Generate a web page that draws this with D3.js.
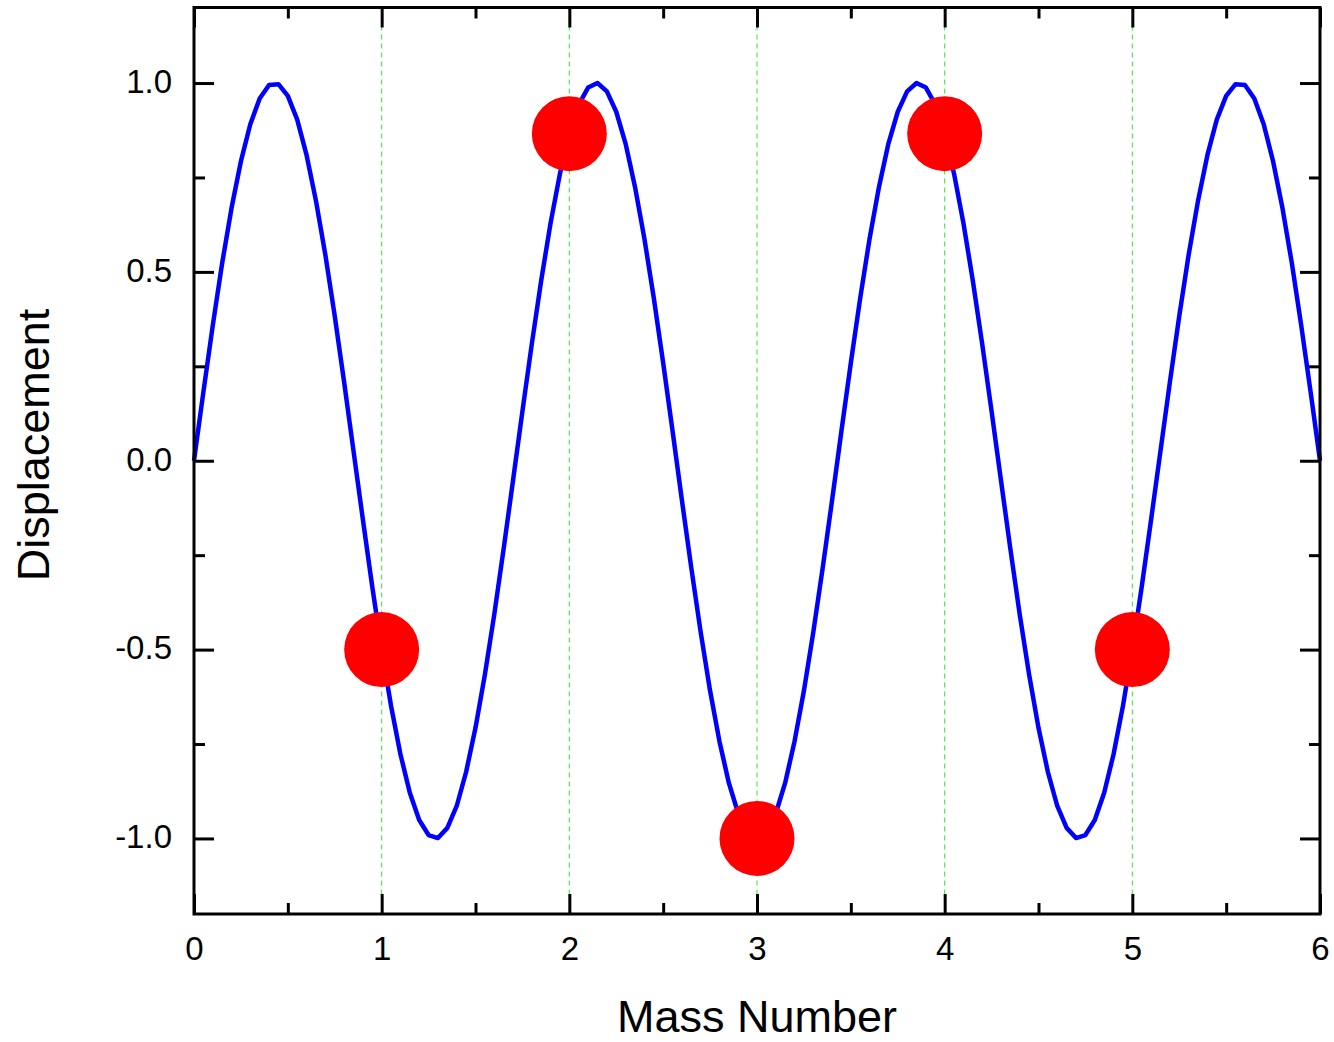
<!DOCTYPE html>
<html>
<head>
<meta charset="utf-8">
<script src="https://cdn.jsdelivr.net/npm/d3@7"></script>
<style>
  html, body { margin: 0; padding: 0; background: #fff; }
  svg { display: block; }
  text { font-family: Arial, "Liberation Sans", sans-serif; fill: #000; }
</style>
</head>
<body>
<svg id="chart" width="1334" height="1042"></svg>
<script>
// Wave displacement sampled every 0.05 along the mass-number axis
const sampleStep = 0.05;
const waveDisplacement = [
  0.000, 0.182, 0.358, 0.523, 0.669, 0.793, 0.891, 0.959, 0.995, 0.997,
  0.966, 0.903, 0.809, 0.688, 0.545, 0.383, 0.208, 0.026, -0.156, -0.334,
  -0.500, -0.649, -0.777, -0.879, -0.951, -0.991, -0.999, -0.972, -0.914, -0.824,
  -0.707, -0.566, -0.407, -0.233, -0.052, 0.131, 0.309, 0.477, 0.629, 0.760,
  0.866, 0.943, 0.988, 1.000, 0.978, 0.924, 0.839, 0.725, 0.588, 0.431,
  0.259, 0.079, -0.105, -0.284, -0.454, -0.609, -0.743, -0.853, -0.934, -0.983,
  -1.000,
  -0.983, -0.934, -0.853, -0.743, -0.609, -0.454, -0.284, -0.105, 0.079, 0.259,
  0.431, 0.588, 0.725, 0.839, 0.924, 0.978, 1.000, 0.988, 0.943, 0.866,
  0.760, 0.629, 0.477, 0.309, 0.131, -0.052, -0.233, -0.407, -0.566, -0.707,
  -0.824, -0.914, -0.972, -0.999, -0.991, -0.951, -0.879, -0.777, -0.649, -0.500,
  -0.334, -0.156, 0.026, 0.208, 0.383, 0.545, 0.688, 0.809, 0.903, 0.966,
  0.997, 0.995, 0.959, 0.891, 0.793, 0.669, 0.523, 0.358, 0.182, 0.000
];

// Masses sitting on the wave
const massNumbers = [1, 2, 3, 4, 5];
const massDisplacement = [-0.5, 0.866, -1.0, 0.866, -0.5];

// Tick values
const xMajorTicks = [0, 1, 2, 3, 4, 5, 6];
const xMinorTicks = [0.5, 1.5, 2.5, 3.5, 4.5, 5.5];
const yMajorTicks = [-1.0, -0.5, 0.0, 0.5, 1.0];
const yMinorTicks = [-0.75, -0.25, 0.25, 0.75];
const guideLines = [1, 2, 3, 4, 5];

const plotLeft = 194, plotRight = 1320, plotTop = 7.5, plotBottom = 914;

const svg = d3.select("#chart");
const x = d3.scaleLinear().domain([0, 6]).range([plotLeft, plotRight]);
const y = d3.scaleLinear().domain([-1.2, 1.2]).range([plotBottom, plotTop]);

// Dashed vertical guides at each mass position
svg.append("g").selectAll("line").data(guideLines).join("line")
  .attr("x1", d => x(d)).attr("x2", d => x(d))
  .attr("y1", plotTop).attr("y2", plotBottom)
  .attr("stroke", "#33e633").attr("stroke-width", 1)
  .attr("stroke-dasharray", "5,4");

// Wave curve
const wave = waveDisplacement.map((v, i) => [i * sampleStep, v]);
svg.append("path")
  .datum(wave)
  .attr("fill", "none")
  .attr("stroke", "#0000ff")
  .attr("stroke-width", 4.5)
  .attr("stroke-linejoin", "round")
  .attr("d", d3.line().x(d => x(d[0])).y(d => y(d[1])));

// Masses
svg.append("g").selectAll("circle").data(massNumbers).join("circle")
  .attr("cx", d => x(d))
  .attr("cy", (d, i) => y(massDisplacement[i]))
  .attr("r", 37.5)
  .attr("fill", "#ff0000");

// Axes with inward ticks on all four sides
function styleAxis(g) {
  g.select(".domain").remove();
  g.selectAll(".tick line").attr("stroke", "#000").attr("stroke-width", 3);
}
// plain hyphen for negative labels
const fmtY = d => d3.format(".1f")(d).replace("\u2212", "-");

svg.append("g").attr("transform", `translate(0,${plotBottom})`)
  .call(d3.axisBottom(x).tickValues(xMajorTicks).tickSize(-20).tickFormat(d3.format("d")))
  .call(styleAxis)
  .call(g => g.selectAll("text").attr("font-size", 33).attr("dy", "0").attr("y", 46));
svg.append("g").attr("transform", `translate(0,${plotBottom})`)
  .call(d3.axisBottom(x).tickValues(xMinorTicks).tickSize(-11).tickFormat(""))
  .call(styleAxis);
svg.append("g").attr("transform", `translate(0,${plotTop})`)
  .call(d3.axisTop(x).tickValues(xMajorTicks).tickSize(-20).tickFormat(""))
  .call(styleAxis);
svg.append("g").attr("transform", `translate(0,${plotTop})`)
  .call(d3.axisTop(x).tickValues(xMinorTicks).tickSize(-11).tickFormat(""))
  .call(styleAxis);

svg.append("g").attr("transform", `translate(${plotLeft},0)`)
  .call(d3.axisLeft(y).tickValues(yMajorTicks).tickSize(-20).tickFormat(fmtY))
  .call(styleAxis)
  .call(g => g.selectAll("text").attr("font-size", 33).attr("x", -22).attr("dy", "0.28em"));
svg.append("g").attr("transform", `translate(${plotLeft},0)`)
  .call(d3.axisLeft(y).tickValues(yMinorTicks).tickSize(-11).tickFormat(""))
  .call(styleAxis);
svg.append("g").attr("transform", `translate(${plotRight},0)`)
  .call(d3.axisRight(y).tickValues(yMajorTicks).tickSize(-20).tickFormat(""))
  .call(styleAxis);
svg.append("g").attr("transform", `translate(${plotRight},0)`)
  .call(d3.axisRight(y).tickValues(yMinorTicks).tickSize(-11).tickFormat(""))
  .call(styleAxis);

// Plot frame
svg.append("rect")
  .attr("x", plotLeft).attr("y", plotTop)
  .attr("width", plotRight - plotLeft).attr("height", plotBottom - plotTop)
  .attr("fill", "none").attr("stroke", "#000").attr("stroke-width", 3);

// Axis titles
svg.append("text")
  .attr("x", (plotLeft + plotRight) / 2).attr("y", 1032)
  .attr("text-anchor", "middle").attr("font-size", 45)
  .text("Mass Number");
svg.append("text")
  .attr("transform", `translate(49,445) rotate(-90)`)
  .attr("text-anchor", "middle").attr("font-size", 45)
  .text("Displacement");
</script>
</body>
</html>
